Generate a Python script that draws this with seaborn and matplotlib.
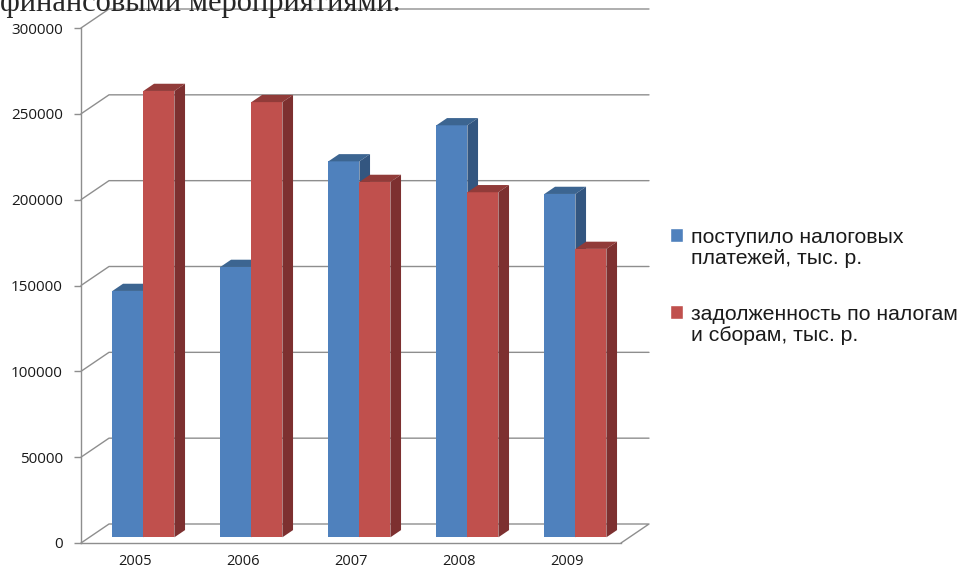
import numpy as np
import pandas as pd
import seaborn as sns
import matplotlib
matplotlib.use('Agg')
import matplotlib.pyplot as plt
from matplotlib.patches import Polygon
from matplotlib.lines import Line2D
from matplotlib.transforms import ScaledTranslation, IdentityTransform

years = ['2005', '2006', '2007', '2008', '2009']
series = ['поступило налоговых\nплатежей, тыс. р.',
          'задолженность по налогам\nи сборам, тыс. р.']
received = [143500, 157500, 219000, 240000, 200000]
debt = [260000, 253500, 207000, 201000, 168000]
yticks = [0, 50000, 100000, 150000, 200000, 250000, 300000]

front = ['#4F81BD', '#C0504D']
tops = ['#3C6591', '#913B39']
sides = ['#335680', '#7D3030']
grid_c = '#8E8E8E'


if __name__ == '__main__':

  df = pd.DataFrame({'year': years * 2,
                     'value': received + debt,
                     'series': [series[0]] * 5 + [series[1]] * 5})

  sns.set_style('white')
  fig = plt.figure(figsize=(9.66, 5.70), dpi=100)
  fig.patch.set_facecolor('white')
  # front plane of the pseudo-3d box
  ax = fig.add_axes([81/966, 27/570, 540/966, 515/570])
  ax.patch.set_visible(False)

  sns.barplot(data=df, x='year', y='value', hue='series',
              palette=front, saturation=1, width=0.574,
              ax=ax, legend=True)

  ax.set_xlim(-0.5, 4.5)
  ax.set_ylim(0, 300000)
  ax.set_yticks(yticks)
  ax.set_autoscale_on(False)
  ax.set_xlabel('')
  ax.set_ylabel('')

  sns.despine(ax=ax, top=True, right=True)
  for s in ['left', 'bottom']:
    ax.spines[s].set_color(grid_c)
    ax.spines[s].set_linewidth(1.0)

  ax.set_xticks(np.arange(-0.5, 5.0, 1.0), minor=True)
  ax.tick_params(axis='x', which='major', length=0, pad=8,
                 labelsize=10.5, labelcolor='#1a1a1a')
  ax.tick_params(axis='x', which='minor', length=5, width=1,
                 color=grid_c, direction='out')
  ax.tick_params(axis='y', length=5, width=1, color=grid_c, pad=8,
                 labelsize=11, labelcolor='#1a1a1a', left=True)
  for lab in ax.get_xticklabels() + ax.get_yticklabels():
    lab.set_family('Open Sans')

  # depth of the box in pixels
  DX, DY = 28.0, 19.0
  f0, f1 = 0.30, 0.68
  fig.canvas.draw()

  def proj(xd, yd, f):
    px, py = ax.transData.transform((xd, yd))
    return (px + f * DX, py + f * DY)

  # back wall, left wall and floor
  for v in yticks:
    pts = [proj(-0.5, v, 0), proj(-0.5, v, 1), proj(4.5, v, 1)]
    if v == 0:
      pts = pts + [proj(4.5, 0, 0)]
    xs, ys = zip(*pts)
    ax.add_artist(Line2D(xs, ys, color=grid_c, lw=1.0,
                         transform=IdentityTransform(), clip_on=False,
                         zorder=0.5))

  shift = ScaledTranslation(f0 * DX / 100, f0 * DY / 100, fig.dpi_scale_trans)
  for k, cont in enumerate(ax.containers):
    for bar in cont:
      bar.set_transform(ax.transData + shift)
      bar.set_clip_on(False)
      bar.set_zorder(2 + k)
      bar.set_edgecolor('none')
      x, w, h = bar.get_x(), bar.get_width(), bar.get_height()
      top = [proj(x, h, f0), proj(x + w, h, f0),
             proj(x + w, h, f1), proj(x, h, f1)]
      side = [proj(x + w, 0, f0), proj(x + w, h, f0),
              proj(x + w, h, f1), proj(x + w, 0, f1)]
      ax.add_artist(Polygon(top, closed=True, fc=tops[k], ec='none',
                            transform=IdentityTransform(), clip_on=False,
                            zorder=2 + k + 0.1))
      ax.add_artist(Polygon(side, closed=True, fc=sides[k], ec='none',
                            transform=IdentityTransform(), clip_on=False,
                            zorder=2 + k + 0.1))

  handles, labels = ax.get_legend_handles_labels()
  leg = ax.legend(handles, labels, loc='upper left',
                  bbox_to_anchor=(670/966, 1 - 228/570),
                  bbox_transform=fig.transFigure, frameon=False,
                  borderpad=0, borderaxespad=0,
                  handlelength=0.62, handleheight=0.62,
                  handletextpad=0.35, labelspacing=1.75,
                  prop={'family': 'Liberation Sans', 'size': 15.3})
  for t in leg.get_texts():
    t.set_linespacing(1.12)
    t.set_color('#1a1a1a')
  # square beside the first line of each entry
  for row in leg._legend_handle_box.get_children():
    for hp in row.get_children():
      hp.align = 'top'

  # cut-off line of the document text above the chart
  fig.text(0.0, 1 - 10.5/570, 'финансовыми мероприятиями.',
           family='Liberation Serif', fontsize=22, ha='left', va='baseline')

  fig.savefig('out.png', dpi=100)
